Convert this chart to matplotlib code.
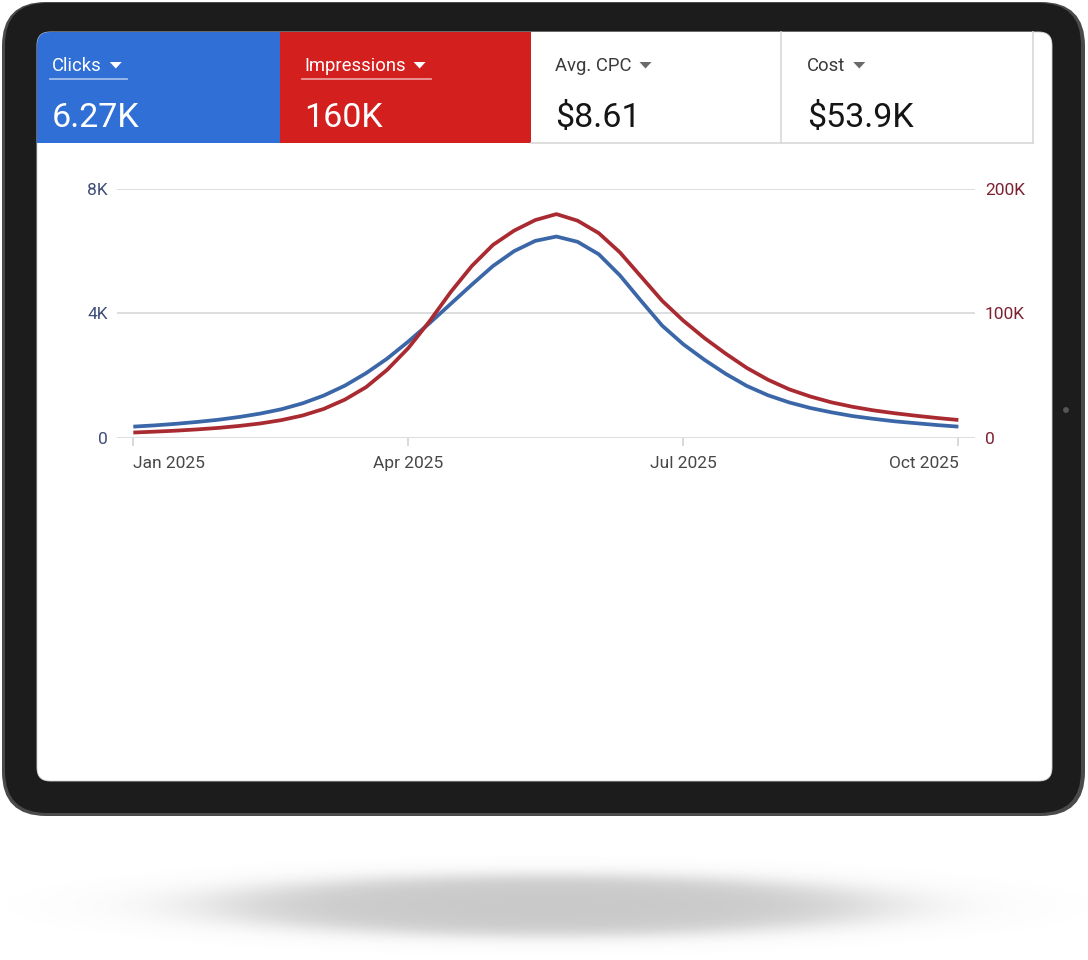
import numpy as np
import pandas as pd
import matplotlib
matplotlib.use("Agg")
import matplotlib.pyplot as plt
from matplotlib.patches import FancyBboxPatch, Rectangle, Polygon
from matplotlib.ticker import FixedLocator, FixedFormatter

plt.rcParams['font.family'] = ['Roboto', 'DejaVu Sans']

# ---------------- data ----------------
start_date = "2025-01-01"
n_weeks = 40
clicks = [350, 390, 440, 500, 570, 660, 770, 910, 1100, 1350,
          1670, 2070, 2540, 3090, 3680, 4300, 4920, 5520, 6000, 6330,
          6470, 6300, 5900, 5220, 4400, 3600, 3000, 2500, 2050, 1660,
          1360, 1130, 950, 810, 690, 600, 520, 460, 400, 350]
impressions = [4000, 4700, 5500, 6500, 7700, 9300, 11300, 14000, 17700, 23000,
               30500, 40500, 54500, 72000, 93500, 117000, 138000, 155000, 166500, 175000,
               179800, 174500, 164500, 149000, 129500, 110000, 94000, 80000, 67500, 56000,
               46500, 38800, 33000, 28300, 24700, 21800, 19500, 17500, 15700, 14100]
x_tick_dates = ["2025-01-01", "2025-04-02", "2025-07-02", "2025-10-01"]
x_tick_labels = ["Jan 2025", "Apr 2025", "Jul 2025", "Oct 2025"]
left_ticks = [0, 4000, 8000]
left_tick_labels = ["0", "4K", "8K"]
right_ticks = [0, 100000, 200000]
right_tick_labels = ["0", "100K", "200K"]
kpi_names = ["Clicks", "Impressions", "Avg. CPC", "Cost"]
kpi_values = ["6.27K", "160K", "$8.61", "$53.9K"]

# ---------------- figure ----------------
W, H = 1088, 960
fig = plt.figure(figsize=(W / 100, H / 100), dpi=100)
fig.patch.set_facecolor("white")

bg = fig.add_axes([0, 0, 1, 1])
bg.set_xlim(0, W)
bg.set_ylim(H, 0)
bg.axis("off")

# shadow under tablet
yy, xx = np.mgrid[830:960, 0:W].astype(float)
r = np.sqrt(((xx - 548) / 430) ** 2 + ((yy - 905) / 40) ** 2)
alpha = 0.38 / (1 + np.exp((r - 0.76) / 0.11))
img = np.zeros((yy.shape[0], yy.shape[1], 4))
img[..., :3] = 0.45
img[..., 3] = alpha
bg.imshow(img, extent=(0, W, 960, 830), origin="upper", aspect="auto", zorder=0)
bg.set_xlim(0, W)
bg.set_ylim(H, 0)

# tablet frame
rim = FancyBboxPatch((2, 2), 1083, 814, boxstyle="round,pad=0,rounding_size=44",
                     fc="#4a4a4a", ec="none", zorder=1)
bg.add_patch(rim)
body = FancyBboxPatch((5, 3), 1076, 810, boxstyle="round,pad=0,rounding_size=42",
                      fc="#1c1c1c", ec="none", zorder=2)
bg.add_patch(body)
screen = FancyBboxPatch((37, 32), 1015, 749, boxstyle="round,pad=0,rounding_size=13",
                        fc="white", ec="#d5d5d5", lw=0.6, zorder=3)
bg.add_patch(screen)
bg.add_patch(plt.Circle((1066, 410), 2.2, color="#555555", zorder=3))

# KPI tiles
tile_x = [37, 280, 531, 781]
tile_w = [243, 251, 250, 252]
tile_fc = ["#2f6fd6", "#d41f1f", "white", "white"]
for x0, w, fc in zip(tile_x, tile_w, tile_fc):
    rct = Rectangle((x0, 32), w, 111, fc=fc, ec="none", zorder=4)
    rct.set_clip_path(screen)
    bg.add_patch(rct)
bg.plot([531, 1033], [143, 143], color="#d8d8d8", lw=1.2, zorder=5)
bg.plot([781, 781], [32, 143], color="#d8d8d8", lw=1.2, zorder=5)
bg.plot([1033, 1033], [32, 143], color="#d8d8d8", lw=1.2, zorder=5)

label_x = [52, 304, 555, 807]
name_col = ["white", "white", "#3a3a3a", "#3a3a3a"]
val_col = ["white", "white", "#151515", "#151515"]
tri_col = ["white", "white", "#6a6a6a", "#6a6a6a"]
fig.canvas.draw()
renderer = fig.canvas.get_renderer()
for i in range(4):
    t = bg.text(label_x[i], 71, kpi_names[i], fontsize=13.3, color=name_col[i],
                ha="left", va="baseline", zorder=6)
    bg.text(label_x[i], 127, kpi_values[i], fontsize=24.5, color=val_col[i],
            ha="left", va="baseline", zorder=6)
    bb = t.get_window_extent(renderer=renderer)
    tx = bb.x1 + 8
    bg.add_patch(Polygon([[tx, 62], [tx + 12, 62], [tx + 6, 68.5]], closed=True,
                         fc=tri_col[i], ec="none", zorder=6))
    if i < 2:
        bg.plot([label_x[i] - 2, tx + 17], [78.5, 78.5], color="white", alpha=0.55,
                lw=1.3, zorder=6)

# ---------------- chart ----------------
dates = pd.date_range(start_date, periods=n_weeks, freq="7D")
ax_l, ax_r, ax_t, ax_b = 117, 975, 189, 437.5
ax = fig.add_axes([ax_l / W, 1 - ax_b / H, (ax_r - ax_l) / W, (ax_b - ax_t) / H], zorder=5)
ax.patch.set_alpha(0)
ax.set_xlim(pd.Timestamp("2025-01-01") - pd.Timedelta(days=5.4),
            pd.Timestamp("2025-10-01") + pd.Timedelta(days=5.5))
ax.set_ylim(0, 8000)
for s in ax.spines.values():
    s.set_visible(False)
ax.yaxis.set_major_locator(FixedLocator(left_ticks))
ax.yaxis.set_major_formatter(FixedFormatter(left_tick_labels))
ax.grid(axis="y", color="#dedede", lw=1.4)
ax.set_axisbelow(True)
ax.tick_params(axis="y", length=0, pad=6.5, labelsize=12.5, labelcolor="#3f4c7a")

xt = [pd.Timestamp(d) for d in x_tick_dates]
ax.set_xticks(xt)
ax.set_xticklabels(x_tick_labels)
ax.tick_params(axis="x", length=6, width=1.1, color="#cfcfcf", pad=7,
               labelsize=12.5, labelcolor="#474747")
xl = ax.get_xticklabels()
xl[0].set_ha("left")
xl[-1].set_ha("right")

ax.plot(dates, clicks, color="#3b67a8", lw=2.7, solid_capstyle="butt",
        solid_joinstyle="round", zorder=3)

ax2 = ax.twinx()
ax2.set_ylim(0, 200000)
for s in ax2.spines.values():
    s.set_visible(False)
ax2.yaxis.set_major_locator(FixedLocator(right_ticks))
ax2.yaxis.set_major_formatter(FixedFormatter(right_tick_labels))
ax2.tick_params(axis="y", length=0, pad=7.2, labelsize=12.5, labelcolor="#7c2232")
ax2.plot(dates, impressions, color="#a92a30", lw=2.7, solid_capstyle="butt",
         solid_joinstyle="round", zorder=3)

fig.savefig("out.png", dpi=100, facecolor="white")
